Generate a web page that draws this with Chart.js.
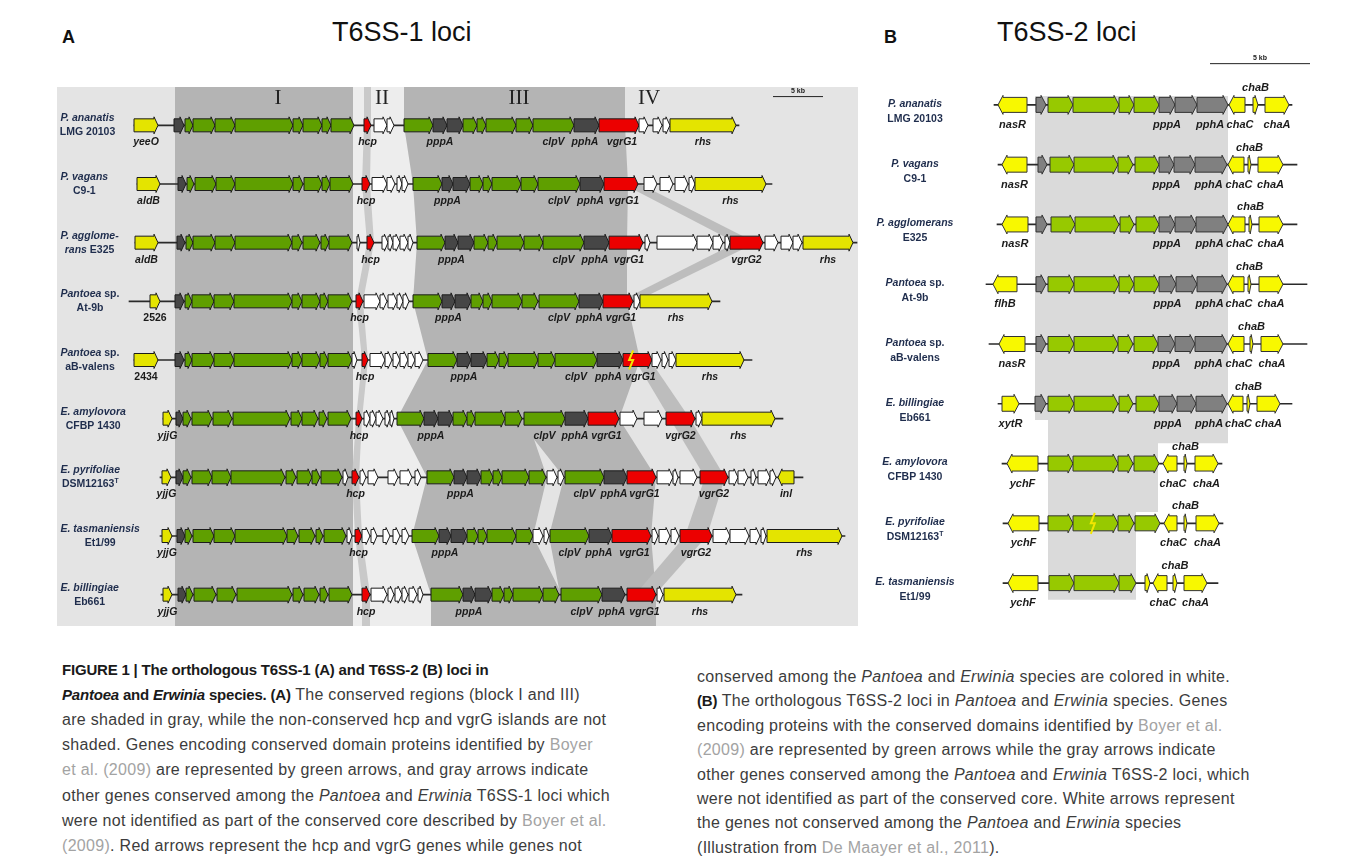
<!DOCTYPE html>
<html>
<head>
<meta charset="utf-8">
<script src="https://cdn.jsdelivr.net/npm/chart.js@4"></script>
<style>
  body { margin: 0; background: #fff; width: 1354px; height: 868px; position: relative; overflow: hidden; font-family: "Liberation Sans", Arial, sans-serif; }
  .t { position: absolute; white-space: nowrap; line-height: 1; color: #111; }
  #boxA { position: absolute; left: 57px; top: 87px; width: 801px; height: 539px; }
  #boxB { position: absolute; left: 870px; top: 50px; width: 460px; height: 570px; }
  .cap { position: absolute; white-space: nowrap; font-size: 16px; line-height: 16px; color: #3c3c3c; letter-spacing: .3px; }
  .cap b { color: #1a1a1a; font-size: 15px; letter-spacing: -.2px; }
  .ref { color: #a3a3a3; }
</style>
</head>
<body>
<div class="t" style="left:62px;top:28px;font-size:18px;font-weight:bold">A</div>
<div class="t" style="left:332px;top:19px;font-size:27px">T6SS-1 loci</div>
<div class="t" style="left:884px;top:28px;font-size:18px;font-weight:bold">B</div>
<div class="t" style="left:997px;top:19px;font-size:27px">T6SS-2 loci</div>

<div id="boxA"><canvas id="chartA"></canvas></div>
<div id="boxB"><canvas id="chartB"></canvas></div>

<div id="caption"></div>

<script>
// ---------- T6SS-1 (panel A) : genes as [start kb, end kb, type, label, flags] ----------
const strainsA = [
  ['*P. ananatis*', 'LMG 20103'], ['*P. vagans*', 'C9-1'], ['*P. agglome-*', '*rans* E325'],
  ['*Pantoea* sp.', 'At-9b'], ['*Pantoea* sp.', 'aB-valens'], ['*E. amylovora*', 'CFBP 1430'],
  ['*E. pyrifoliae*', 'DSM12163^T'], ['*E. tasmaniensis*', 'Et1/99'], ['*E. billingiae*', 'Eb661']
];

const ananatisA = [[0.4,2.8,'Y','yeeO'],[4.4,5.4,'D'],
  [5.5,6.3,'G'],[6.3,8.5,'G'],[8.5,10.5,'G'],[10.5,16.3,'G'],[16.3,17.3,'G'],[17.3,19.2,'G'],[19.2,20.1,'G'],[20.1,22.4,'G'],
  [23.4,24.1,'R','hcp'],[24.4,25.7,'W'],[25.7,26.4,'W'],
  [27.4,30.3,'G'],[30.3,31.7,'D','pppA'],[31.7,33.3,'D'],
  [33.3,34.7,'G'],[34.7,35.6,'G'],[35.6,38.6,'G'],[38.6,40.3,'G'],[40.3,44.4,'G','clpV'],
  [44.4,46.9,'D','pphA'],[46.9,50.9,'R','vgrG1'],
  [50.9,51.8,'W'],[52.3,53.2,'W'],[53.3,54.0,'W'],[54.0,60.6,'Y','rhs']];
const vagansA = [[0.7,3.0,'Y','aldB'],[4.8,5.6,'D'],
  [5.7,6.4,'G'],[6.5,8.6,'G'],[8.6,10.5,'G'],[10.5,16.3,'G'],[16.3,17.3,'G'],[17.4,19.2,'G'],[19.2,20.0,'G'],[20.0,22.3,'G'],
  [23.2,24.0,'R','hcp'],[24.2,25.7,'W'],[25.7,26.5,'W'],[26.7,27.2,'W'],[27.2,27.8,'W'],
  [28.3,31.2,'G'],[31.2,32.3,'D','pppA'],[32.3,34.0,'D'],
  [34.0,35.3,'G'],[35.3,36.2,'G'],[36.2,39.1,'G'],[39.1,40.8,'G'],[40.8,45.0,'G','clpV'],
  [45.0,47.4,'D','pphA'],[47.4,50.8,'R','vgrG1'],
  [51.4,52.7,'W'],[53.0,54.3,'W'],[54.5,55.8,'W'],[55.9,56.5,'W'],[56.5,63.6,'Y','rhs']];
const agglomeransA = [[0.5,2.8,'Y','aldB'],[4.7,5.5,'D'],
  [5.6,6.3,'G'],[6.3,8.5,'G'],[8.5,10.5,'G'],[10.5,16.2,'G'],[16.2,17.2,'G'],[17.3,19.0,'G'],[19.1,19.9,'G'],[19.9,22.2,'G'],
  [22.7,23.0,'W'],[23.7,24.4,'R','hcp'],[25.2,25.8,'W'],[25.8,26.3,'W'],[26.3,27.0,'W'],[27.0,27.8,'W'],[27.8,28.3,'W'],
  [28.7,31.5,'G'],[31.5,32.8,'D','pppA'],[32.8,34.4,'D'],
  [34.4,35.8,'G'],[35.8,36.7,'G'],[36.7,39.4,'G'],[39.4,41.3,'G'],[41.3,45.4,'G','clpV'],
  [45.4,47.9,'D','pphA'],[47.9,51.3,'R','vgrG1'],
  [51.5,52.0,'W'],[52.7,56.7,'W'],[56.7,58.3,'W'],[58.3,59.3,'W'],[59.5,60.0,'W'],[60.0,63.3,'R','vgrG2'],
  [63.5,64.8,'W'],[65.1,66.3,'W'],[66.3,67.2,'W'],[67.3,72.3,'Y','rhs']];
const at9bA = [[2.0,3.0,'Y','2526'],[4.5,5.4,'D'],
  [5.5,6.2,'G'],[6.2,8.4,'G'],[8.4,10.4,'G'],[10.4,16.2,'G'],[16.2,17.2,'G'],[17.2,19.0,'G'],[19.0,19.8,'G'],[19.8,22.2,'G'],
  [22.6,23.3,'R','hcp'],[23.4,25.0,'W'],[25.0,25.7,'W'],[25.8,26.7,'W'],[26.7,27.3,'W'],[27.3,27.9,'W'],
  [28.3,31.2,'G'],[31.2,32.5,'D','pppA'],[32.5,34.1,'D'],
  [34.1,35.3,'G'],[35.3,36.2,'G'],[36.2,39.2,'G'],[39.2,40.8,'G'],[40.9,44.9,'G','clpV'],
  [44.9,47.3,'D','pphA'],[47.3,50.3,'R','vgrG1'],[50.4,51.0,'W'],[51.0,58.2,'Y','rhs']];
const aBvalensA = [[0.4,2.8,'Y','2434'],[4.5,5.4,'D'],
  [5.5,6.2,'G'],[6.2,8.4,'G'],[8.4,10.4,'G'],[10.4,16.2,'G'],[16.2,17.2,'G'],[17.2,19.0,'G'],[19.0,19.8,'G'],[19.8,22.2,'G'],
  [22.2,22.7,'W'],[23.2,23.8,'R','hcp'],[24.0,25.5,'W'],[25.5,26.2,'W'],[26.3,27.0,'W'],[27.0,27.8,'W'],[27.8,28.5,'W'],[28.5,29.3,'W'],
  [29.8,32.7,'G'],[32.7,34.1,'D','pppA'],[34.1,35.7,'D'],
  [35.7,36.9,'G'],[36.9,37.8,'G'],[37.8,40.8,'G'],[40.8,42.5,'G'],[42.5,46.7,'G','clpV'],
  [46.7,49.3,'D','pphA'],[49.3,52.2,'R','vgrG1','Z'],
  [52.2,53.1,'W'],[53.2,53.8,'W'],[53.9,54.6,'W'],[54.6,61.4,'Y','rhs']];
const amylovoraA = [[3.3,4.2,'Y','yjjG'],[4.6,5.3,'D'],
  [5.3,6.1,'G'],[6.2,8.2,'G'],[8.3,10.2,'G'],[10.3,16.0,'G'],[16.1,17.2,'G'],[17.2,18.8,'G'],[18.9,19.7,'G'],[19.8,22.1,'G'],
  [22.6,23.2,'R','hcp'],[23.4,24.0,'W'],[24.0,24.6,'W'],[24.6,25.3,'W'],[25.5,26.0,'W'],[26.0,26.4,'W'],
  [26.7,29.4,'G'],[29.4,30.8,'D','pppA'],[30.8,32.3,'D'],
  [32.3,33.7,'G'],[33.7,34.5,'G'],[34.5,37.5,'G'],[37.5,39.2,'G'],[39.4,43.5,'G','clpV'],
  [43.5,45.8,'D','pphA'],[45.8,48.9,'R','vgrG1'],
  [49.0,50.7,'W'],[51.4,53.2,'W'],[53.6,56.5,'R','vgrG2'],[56.6,57.2,'W'],[57.2,64.5,'Y','rhs']];
const pyrifoliaeA = [[3.2,4.1,'Y','yjjG'],[4.6,5.3,'D'],
  [5.3,6.1,'G'],[6.2,8.2,'G'],[8.2,10.1,'G'],[10.1,15.5,'G'],[15.6,16.6,'G'],[16.7,18.2,'G'],[18.2,19.0,'G'],[19.1,21.2,'G'],
  [21.3,21.8,'W'],[22.2,22.9,'R','hcp'],[23.0,23.6,'W'],[23.8,24.8,'W'],[25.8,26.8,'W'],[27.0,28.2,'W'],[28.5,29.1,'W'],
  [29.7,32.4,'G'],[32.4,33.7,'D','pppA'],[33.7,35.1,'D'],
  [35.1,36.3,'G'],[36.3,37.2,'G'],[37.2,39.9,'G'],[39.9,41.6,'G'],[41.7,42.7,'W'],[42.8,43.4,'W'],
  [43.5,47.4,'G','clpV'],[47.4,49.7,'D','pphA'],[49.7,52.6,'R','vgrG1'],
  [52.7,54.3,'W'],[54.3,54.8,'W'],[55.0,56.7,'W'],[57.0,59.8,'R','vgrG2'],
  [59.9,60.8,'W'],[60.8,61.8,'W'],[62.1,62.6,'W'],[62.8,64.0,'W'],[64.0,64.6,'W'],[64.8,66.4,'Y','inl','L']];
const tasmaniensisA = [[3.2,4.2,'Y','yjjG'],[4.7,5.5,'D'],
  [5.5,6.2,'G'],[6.3,8.4,'G'],[8.4,10.5,'G'],[10.5,15.7,'G'],[15.7,16.8,'G'],[16.9,18.5,'G'],[18.6,19.3,'G'],[19.4,21.6,'G'],
  [21.7,22.2,'W'],[22.5,23.2,'R','hcp'],[23.2,24.0,'W'],[24.1,24.7,'W'],[25.3,26.0,'W'],[26.3,27.0,'W'],[27.2,27.9,'W'],
  [28.2,30.9,'G'],[30.9,32.1,'D','pppA'],[32.1,33.7,'D'],
  [33.7,34.8,'G'],[34.8,35.7,'G'],[35.7,38.6,'G'],[38.6,40.3,'G'],[40.3,41.3,'W'],[41.4,41.9,'W'],
  [42.0,45.9,'G','clpV'],[45.9,48.2,'D','pphA'],[48.2,52.1,'R','vgrG1'],
  [52.2,52.8,'W'],[52.9,54.0,'W'],[54.1,54.9,'W'],[55.0,58.2,'R','vgrG2'],
  [58.3,60.0,'W'],[60.0,61.9,'W'],[62.0,63.0,'W'],[63.1,63.6,'W'],[63.7,71.2,'Y','rhs']];
const billingiaeA = [[3.3,4.2,'Y','yjjG'],[4.8,5.6,'D'],
  [5.6,6.3,'G'],[6.4,8.6,'G'],[8.7,10.6,'G'],[10.7,16.2,'G'],[16.3,17.3,'G'],[17.4,18.9,'G'],[19.0,19.8,'G'],[19.9,22.2,'G'],
  [23.2,24.0,'R','hcp'],[24.1,25.7,'W'],[25.8,26.4,'W'],[26.5,27.2,'W'],[27.2,27.8,'W'],[27.9,28.7,'W'],[28.8,29.3,'W'],
  [30.1,33.3,'G'],[33.3,34.5,'D','pppA'],[34.5,36.2,'D'],
  [36.2,37.4,'G'],[37.4,38.3,'G'],[38.3,41.3,'G'],[41.3,42.9,'G'],[43.1,47.2,'G','clpV'],
  [47.2,49.5,'D','pphA'],[49.7,52.6,'R','vgrG1'],[52.7,53.3,'W'],[53.4,60.6,'Y','rhs']];

const genesA = [ananatisA, vagansA, agglomeransA, at9bA, aBvalensA, amylovoraA, pyrifoliaeA, tasmaniensisA, billingiaeA];
const backboneA = [[0.4,60.9],[0.7,64.2],[0.5,72.7],[-0.1,59.0],[0.4,62.2],[3.3,65.3],[3.0,67.3],[3.0,71.5],[3.1,61.2]];

// shaded conserved blocks (kb per row)
const blockI = [4.5, 22.3];
const blockIIILeft  = [27.4, 28.3, 28.7, 28.3, 29.8, 26.7, 29.7, 28.2, 30.1];
const blockIIIRight = [49.5, 49.8, 49.7, 49.7, 51.0, 48.9, 52.6, 52.1, 52.6];
// vgrG links in region IV: [row, start, end, next row, start, end]
const vgrLinks = [[1,49.3,51.0,2,60.6,62.6],[2,60.6,62.6,3,49.0,50.6],[4,50.5,52.0,5,54.0,56.0],
                  [5,54.0,56.0,6,57.5,59.5],[6,57.5,59.5,7,55.5,57.7],[7,55.5,57.7,8,50.5,52.5]];
const notchIII = [[40.4,5.35],[43.4,6],[41.9,7],[42.9,7.9],[40.3,7],[41.7,6]];
const blockLabels = ['I','II','III','IV'];
const blockLabelPos = [14.8, 25.2, 38.9, 51.9];

// ---------- T6SS-2 (panel B) ----------
const strainsB = [
  ['*P. ananatis*', 'LMG 20103'], ['*P. vagans*', 'C9-1'], ['*P. agglomerans*', 'E325'],
  ['*Pantoea* sp.', 'At-9b'], ['*Pantoea* sp.', 'aB-valens'], ['*E. billingiae*', 'Eb661'],
  ['*E. amylovora*', 'CFBP 1430'], ['*E. pyrifoliae*', 'DSM12163^T'], ['*E. tasmaniensis*', 'Et1/99']
];
const ananatisB = [[0.4,1.85,'Y','nasR','L'],[2.3,2.8,'D'],[2.9,4.15,'G'],[4.15,6.45,'G'],[6.45,7.2,'G'],[7.2,8.45,'G'],
  [8.45,9.25,'D','pppA'],[9.25,10.35,'D'],[10.35,11.9,'D','pphA'],[11.95,12.75,'Y','chaC','L'],[13.15,13.4,'Y','chaB','U'],[13.75,14.95,'Y','chaA']];
const vagansB = [[0.6,1.85,'Y','nasR','L'],[2.4,2.85,'D'],[3.0,4.2,'G'],[4.2,6.4,'G'],[6.4,7.15,'G'],[7.25,8.45,'G'],
  [8.45,9.2,'D','pppA'],[9.2,10.25,'D'],[10.25,11.85,'D','pphA'],[11.9,12.7,'Y','chaC','L'],[12.9,13.05,'Y','chaB','U'],[13.4,14.65,'Y','chaA']];
const agglomeransB = [[0.6,1.9,'Y','nasR','L'],[2.3,2.85,'D'],[3.05,4.25,'G'],[4.25,6.45,'G'],[6.5,7.2,'G'],[7.3,8.45,'G'],
  [8.45,9.25,'D','pppA'],[9.25,10.3,'D'],[10.3,11.9,'D','pphA'],[11.9,12.75,'Y','chaC','L'],[12.95,13.1,'Y','chaB','U'],[13.45,14.65,'Y','chaA']];
const at9bB = [[0.15,1.35,'Y','flhB','L'],[2.3,2.8,'D'],[2.9,4.2,'G'],[4.2,6.45,'G'],[6.45,7.2,'G'],[7.2,8.45,'G'],
  [8.45,9.3,'D','pppA'],[9.3,10.35,'D'],[10.35,11.85,'D','pphA'],[11.9,12.7,'Y','chaC','L'],[12.9,13.05,'Y','chaB','U'],[13.45,14.65,'Y','chaA']];
const aBvalensB = [[0.45,1.75,'Y','nasR','L'],[2.3,2.8,'D'],[2.9,4.2,'G'],[4.2,6.4,'G'],[6.4,7.15,'G'],[7.2,8.4,'G'],
  [8.4,9.25,'D','pppA'],[9.25,10.25,'D'],[10.25,11.85,'D','pphA'],[11.9,12.7,'Y','chaC','L'],[13.0,13.15,'Y','chaB','U'],[13.55,14.65,'Y','chaA']];
const billingiaeB = [[0.6,1.45,'Y','xytR'],[2.25,2.8,'D'],[2.9,4.2,'G'],[4.2,6.4,'G'],[6.45,7.15,'G'],[7.3,8.45,'G'],
  [8.45,9.35,'D','pppA'],[9.35,10.3,'D'],[10.3,11.85,'D','pphA'],[11.9,12.65,'Y','chaC','L'],[12.85,13.0,'Y','chaB','U'],[13.35,14.5,'Y','chaA']];
const amylovoraB = [[0.85,2.4,'Y','ychF','L'],[2.9,4.15,'G'],[4.15,6.4,'G'],[6.4,7.15,'G'],[7.2,8.45,'G'],
  [8.65,9.35,'Y','chaC','L'],[9.7,9.85,'Y','chaB','U'],[10.25,11.4,'Y','chaA']];
const pyrifoliaeB = [[0.9,2.45,'Y','ychF','L'],[2.9,4.15,'G'],[4.15,6.4,'G','','Z'],[6.4,7.2,'G'],[7.25,8.5,'G'],
  [8.7,9.35,'Y','chaC','L'],[9.7,9.85,'Y','chaB','U'],[10.3,11.45,'Y','chaA']];
const tasmaniensisB = [[0.9,2.4,'Y','ychF','L'],[2.95,4.2,'G'],[4.2,6.45,'G'],[6.45,7.3,'G'],[7.75,8.0,'Y'],
  [8.15,8.85,'Y','chaC','L'],[9.15,9.35,'Y','chaB','U'],[9.7,10.85,'Y','chaA']];

const genesB = [ananatisB, vagansB, agglomeransB, at9bB, aBvalensB, billingiaeB, amylovoraB, pyrifoliaeB, tasmaniensisB];
const backboneB = [[0.2,15.1],[0.4,15.35],[0.35,15.35],[-0.2,15.85],[-0.05,15.85],[0.4,15.1],[0.6,11.6],[0.65,11.65],[0.65,11.4]];
const shadeBx = [2.25, 11.9, 11.9, 8.4, 8.4, 7.3, 7.3, 2.9, 2.9, 2.25];
const shadeBrow = [-0.15, -0.15, 5.66, 5.66, 6.81, 6.81, 8.28, 8.28, 5.27, 5.27];

// ---------- helpers ----------
function keysOf(strains) { return strains.map(s => (s[0] + ' ' + s[1]).replace(/\*/g, '')); }

function geneData(rows, keys) {
  const out = [];
  rows.forEach((row, r) => row.forEach(g => out.push({ x: [g[0], g[1]], y: keys[r], t: g[2], lab: g[3] || '', f: g[4] || '' })));
  return out;
}

function geo(chart) {
  const xs = chart.scales.x, ys = chart.scales.y;
  const y0 = ys.getPixelForTick(0), dy = ys.getPixelForTick(1) - y0;
  return { px: v => xs.getPixelForValue(v), py: r => y0 + r * dy, h: chart.height };
}

function arrow(ctx, a, b, y, h, head, tick, left) {
  const hd = Math.min(head, (b - a) * 0.6);
  ctx.beginPath();
  if (left) {
    ctx.moveTo(b, y - h / 2); ctx.lineTo(a + hd, y - h / 2); ctx.lineTo(a + hd, y - h / 2 - tick);
    ctx.lineTo(a, y); ctx.lineTo(a + hd, y + h / 2 + tick); ctx.lineTo(a + hd, y + h / 2); ctx.lineTo(b, y + h / 2);
  } else {
    ctx.moveTo(a, y - h / 2); ctx.lineTo(b - hd, y - h / 2); ctx.lineTo(b - hd, y - h / 2 - tick);
    ctx.lineTo(b, y); ctx.lineTo(b - hd, y + h / 2 + tick); ctx.lineTo(b - hd, y + h / 2); ctx.lineTo(a, y + h / 2);
  }
  ctx.closePath(); ctx.fill(); ctx.stroke();
}

// text with *italic* runs and ^superscript tail; align 'center' or 'left'
function richText(ctx, str, x0, y, size, color, align) {
  let sup = '';
  if (str.includes('^')) { [str, sup] = str.split('^'); }
  const parts = str.split('*').map((s, i) => ({ s, it: i % 2 === 1 })).filter(p => p.s);
  const fontOf = p => (p.it ? 'italic ' : '') + 'bold ' + size + 'px "Liberation Sans", Arial, sans-serif';
  let w = 0;
  parts.forEach(p => { ctx.font = fontOf(p); p.w = ctx.measureText(p.s).width; w += p.w; });
  ctx.font = 'bold ' + (size * 0.65) + 'px "Liberation Sans", Arial';
  const sw = sup ? ctx.measureText(sup).width : 0;
  let x = align === 'left' ? x0 : x0 - (w + sw) / 2;
  ctx.fillStyle = color; ctx.textAlign = 'left'; ctx.textBaseline = 'middle';
  parts.forEach(p => { ctx.font = fontOf(p); ctx.fillText(p.s, x, y); x += p.w; });
  if (sup) { ctx.font = 'bold ' + (size * 0.65) + 'px "Liberation Sans", Arial'; ctx.fillText(sup, x, y - size * 0.35); }
  return w + sw;
}

function band(ctx, g, lefts, rights, color) {
  const n = lefts.length;
  ctx.beginPath();
  ctx.moveTo(g.px(lefts[0]), 0);
  for (let r = 0; r < n; r++) ctx.lineTo(g.px(lefts[r]), g.py(r));
  ctx.lineTo(g.px(lefts[n - 1]), g.h);
  ctx.lineTo(g.px(rights[n - 1]), g.h);
  for (let r = n - 1; r >= 0; r--) ctx.lineTo(g.px(rights[r]), g.py(r));
  ctx.lineTo(g.px(rights[0]), 0);
  ctx.closePath(); ctx.fillStyle = color; ctx.fill();
}

function mapPlugin(cfg) {
  return {
    id: 'genomeMap',
    beforeDraw(chart) {
      if (!cfg.panel) return;
      chart.ctx.save(); chart.ctx.fillStyle = cfg.panel; chart.ctx.fillRect(0, 0, chart.width, chart.height); chart.ctx.restore();
    },
    beforeDatasetsDraw(chart) {
      const ctx = chart.ctx; ctx.save(); cfg.shade(ctx, geo(chart)); ctx.restore();
    },
    afterDatasetsDraw(chart) {
      const ctx = chart.ctx, g = geo(chart);
      ctx.save();
      const ds = chart.data.datasets[1];
      ctx.lineWidth = 1; ctx.strokeStyle = cfg.outline; ctx.lineJoin = 'miter';
      chart.getDatasetMeta(1).data.forEach((el, i) => {
        const d = ds.data[i];
        const a = Math.min(el.x, el.base), b = Math.max(el.x, el.base);
        ctx.fillStyle = cfg.colors[d.t];
        arrow(ctx, a, b, el.y, cfg.h, cfg.head, cfg.tick, d.f.includes('L'));
        if (d.f.includes('Z')) {
          const zx = a + (b - a) * cfg.zigAt, hh = cfg.h / 2 + 3;
          ctx.save(); ctx.strokeStyle = '#f2e600'; ctx.lineWidth = 2;
          ctx.beginPath(); ctx.moveTo(zx + 2, el.y - hh); ctx.lineTo(zx - 2, el.y); ctx.lineTo(zx + 2, el.y); ctx.lineTo(zx - 2, el.y + hh);
          ctx.stroke(); ctx.restore();
        }
      });
      ctx.textAlign = 'center'; ctx.textBaseline = 'middle'; ctx.fillStyle = '#1b1b1b';
      chart.getDatasetMeta(1).data.forEach((el, i) => {
        const d = ds.data[i];
        if (!d.lab) return;
        const num = /^\d/.test(d.lab);
        ctx.font = (num ? '' : 'italic ') + 'bold ' + cfg.labSize + 'px "Liberation Sans", Arial, sans-serif';
        const up = d.f.includes('U');
        const shift = (cfg.labShift[d.lab] || 0) * (g.px(1) - g.px(0));
        ctx.fillText(d.lab, (el.x + el.base) / 2 + shift, el.y + (up ? -cfg.labUp : cfg.labDown));
      });
      cfg.strains.forEach((s, r) => {
        const sx = g.px(cfg.strainX), y = g.py(r);
        if (cfg.strainAlign === 'left') {
          const w = richText(ctx, s[0], sx, y + cfg.strainDy[0], cfg.strainSize, '#1f2d4d', 'left');
          richText(ctx, s[1], sx + w / 2, y + cfg.strainDy[1], cfg.strainSize, '#1f2d4d', 'center');
        } else {
          richText(ctx, s[0], sx, y + cfg.strainDy[0], cfg.strainSize, '#1f2d4d', 'center');
          richText(ctx, s[1], sx, y + cfg.strainDy[1], cfg.strainSize, '#1f2d4d', 'center');
        }
      });
      // scale bar
      const sb = cfg.scaleBar;
      ctx.strokeStyle = '#222'; ctx.lineWidth = 1;
      ctx.beginPath(); ctx.moveTo(g.px(sb[0]), g.py(sb[2])); ctx.lineTo(g.px(sb[1]), g.py(sb[2])); ctx.stroke();
      ctx.font = 'bold 7px "Liberation Sans", Arial'; ctx.fillStyle = '#222'; ctx.textAlign = 'center';
      ctx.fillText('5 kb', g.px((sb[0] + sb[1]) / 2), g.py(sb[2]) - 6);
      if (cfg.extras) cfg.extras(ctx, g);
      ctx.restore();
    }
  };
}

function makeChart(id, strains, rows, backbone, xmin, xmax, pad, cfg) {
  const keys = keysOf(strains);
  return new Chart(document.getElementById(id), {
    type: 'bar',
    data: {
      labels: keys,
      datasets: [
        { label: 'backbone', data: backbone.map((b, r) => ({ x: b, y: keys[r] })), backgroundColor: '#2a2a2a', barThickness: 1, borderWidth: 0 },
        { label: 'genes', data: geneData(rows, keys), backgroundColor: 'rgba(0,0,0,0)', barThickness: cfg.h, borderWidth: 0 }
      ]
    },
    options: {
      indexAxis: 'y', responsive: true, maintainAspectRatio: false, animation: false, events: [],
      grouped: false,
      layout: { padding: pad },
      scales: {
        x: { type: 'linear', min: xmin, max: xmax, display: false },
        y: { type: 'category', display: false, offset: true }
      },
      plugins: { legend: { display: false }, tooltip: { enabled: false } }
    },
    plugins: [mapPlugin(Object.assign({ strains }, cfg))]
  });
}

// ---------- panel A ----------
makeChart('chartA', strainsA, genesA, backboneA, -7.3, 72.8, { top: 9, bottom: 2, left: 0, right: 0 }, {
  panel: '#e4e4e4', outline: '#1c1c1c', h: 13, head: 4, tick: 2, zigAt: 0.28,
  colors: { Y: '#e4e400', G: '#5f9f00', D: '#464646', R: '#ec0000', W: '#ffffff' },
  labSize: 10.5, labDown: 17, labUp: 17, labShift: { pphA: -0.15, vgrG1: 0.3 },
  strainX: -6.95, strainAlign: 'left', strainDy: [-7, 7], strainSize: 10.5,
  scaleBar: [64.3, 69.3, -0.49],
  shade(ctx, g) {
    const n = genesA.length;
    // block I
    ctx.fillStyle = '#b4b4b4';
    ctx.fillRect(g.px(blockI[0]), 0, g.px(blockI[1]) - g.px(blockI[0]), g.h);
    // unshaded hcp island (lighter)
    band(ctx, g, new Array(n).fill(blockI[1]), blockIIILeft, '#ededed');
    const hcp = genesA.map(row => row.find(x => x[3] === 'hcp'));
    band(ctx, g, hcp.map(x => x[0]), hcp.map(x => x[1]), '#c9c9c9');
    // block III
    band(ctx, g, blockIIILeft, blockIIIRight, '#b4b4b4');
    ctx.beginPath();
    notchIII.forEach((p, i) => i ? ctx.lineTo(g.px(p[0]), g.py(p[1])) : ctx.moveTo(g.px(p[0]), g.py(p[1])));
    ctx.closePath(); ctx.fillStyle = '#e4e4e4'; ctx.fill();
    // vgrG links
    ctx.fillStyle = '#bdbdbd';
    vgrLinks.forEach(l => {
      ctx.beginPath();
      ctx.moveTo(g.px(l[1]), g.py(l[0])); ctx.lineTo(g.px(l[2]), g.py(l[0]));
      ctx.lineTo(g.px(l[5]), g.py(l[3])); ctx.lineTo(g.px(l[4]), g.py(l[3]));
      ctx.closePath(); ctx.fill();
    });
  },
  extras(ctx, g) {
    ctx.font = '21px "Liberation Serif", "DejaVu Serif", serif'; ctx.fillStyle = '#222'; ctx.textAlign = 'center';
    blockLabels.forEach((t, i) => ctx.fillText(t, g.px(blockLabelPos[i]), g.py(-0.45)));
  }
});

// ---------- panel B ----------
makeChart('chartB', strainsB, genesB, backboneB, -6, 17, { top: 25, bottom: 7, left: 0, right: 0 }, {
  panel: null, outline: '#333', h: 15, head: 5, tick: 2, zigAt: 0.44,
  colors: { Y: '#f8f800', G: '#97c900', D: '#808080' },
  labSize: 11, labDown: 20, labUp: 17, labShift: { pphA: -0.12, chaC: 0.15 },
  strainX: -3.75, strainAlign: 'center', strainDy: [-1, 14], strainSize: 10.5,
  scaleBar: [11.0, 16.0, -0.69],
  shade(ctx, g) {
    ctx.beginPath();
    shadeBx.forEach((x, i) => i ? ctx.lineTo(g.px(x), g.py(shadeBrow[i])) : ctx.moveTo(g.px(x), g.py(shadeBrow[i])));
    ctx.closePath(); ctx.fillStyle = '#dadada'; ctx.fill();
  }
});

// ---------- caption ----------
const capLeft = [
  '<b>FIGURE 1 | The orthologous T6SS-1 (A) and T6SS-2 (B) loci in</b>',
  '<b><i>Pantoea</i> and <i>Erwinia</i> species. (A)</b> The conserved regions (block I and III)',
  'are shaded in gray, while the non-conserved hcp and vgrG islands are not',
  'shaded. Genes encoding conserved domain proteins identified by <span class="ref">Boyer</span>',
  '<span class="ref">et al. (2009)</span> are represented by green arrows, and gray arrows indicate',
  'other genes conserved among the <i>Pantoea</i> and <i>Erwinia</i> T6SS-1 loci which',
  'were not identified as part of the conserved core described by <span class="ref">Boyer et al.</span>',
  '<span class="ref">(2009)</span>. Red arrows represent the hcp and vgrG genes while genes not'
];
const capRight = [
  'conserved among the <i>Pantoea</i> and <i>Erwinia</i> species are colored in white.',
  '<b>(B)</b> The orthologous T6SS-2 loci in <i>Pantoea</i> and <i>Erwinia</i> species. Genes',
  'encoding proteins with the conserved domains identified by <span class="ref">Boyer et al.</span>',
  '<span class="ref">(2009)</span> are represented by green arrows while the gray arrows indicate',
  'other genes conserved among the <i>Pantoea</i> and <i>Erwinia</i> T6SS-2 loci, which',
  'were not identified as part of the conserved core. White arrows represent',
  'the genes not conserved among the <i>Pantoea</i> and <i>Erwinia</i> species',
  '(Illustration from <span class="ref">De Maayer et al., 2011</span>).'
];
const cap = document.getElementById('caption');
capLeft.forEach((html, i) => cap.insertAdjacentHTML('beforeend', `<div class="cap" style="left:62px;top:${662 + i * 25.1}px">${html}</div>`));
capRight.forEach((html, i) => cap.insertAdjacentHTML('beforeend', `<div class="cap" style="left:697px;top:${669 + i * 24.4}px">${html}</div>`));
</script>
</body>
</html>
